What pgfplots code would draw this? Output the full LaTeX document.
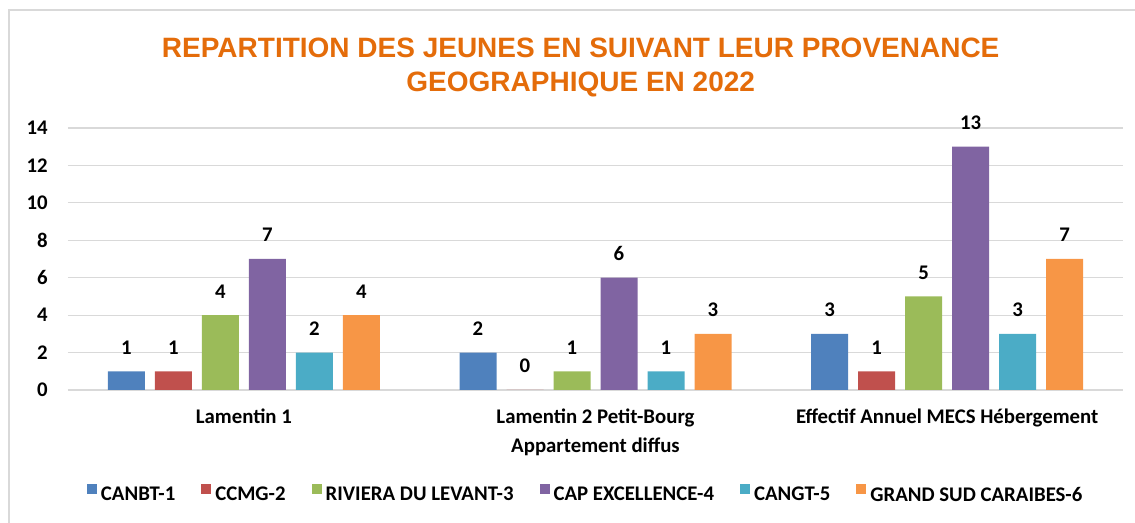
\documentclass[border=0pt]{standalone}
\usepackage{pgfplots}
\pgfplotsset{compat=1.18}
\usepackage{fontspec}
\setmainfont{Carlito}
\newfontfamily\titlefont{Liberation Sans}
\definecolor{cblue}{HTML}{4F81BD}
\definecolor{cred}{HTML}{C0504D}
\definecolor{cgreen}{HTML}{9BBB59}
\definecolor{cpurple}{HTML}{8064A2}
\definecolor{ccyan}{HTML}{4BACC6}
\definecolor{corange}{HTML}{F79646}
\definecolor{ctitle}{HTML}{E46C0A}
\definecolor{gridgray}{HTML}{D9D9D9}
\begin{document}
\begin{tikzpicture}[x=0.75pt,y=0.75pt]
\useasboundingbox (0,0) rectangle (1135,523);
\draw[gridgray, line width=1.5pt] (8.5,0) -- (8.5,512.5) -- (1135,512.5);
\begin{axis}[
  at={(51pt,99.75pt)}, anchor=south west,
  width=791.25pt, height=196.5pt, scale only axis,
  ybar=7.5pt, bar width=27.75pt,
  xmin=-0.5, xmax=2.5, ymin=0, ymax=14,
  ytick={0,2,...,14}, xtick={0,1,2},
  xticklabels={Lamentin 1,{Lamentin 2 Petit-Bourg\\Appartement diffus},Effectif Annuel MECS Hébergement},
  ymajorgrids, grid style={draw=gridgray, line width=0.9pt},
  axis line style={draw=none}, major tick length=0pt,
  /pgf/number format/assume math mode=true,
  tick label style={font=\bfseries\fontsize{15.6}{21.5}\selectfont},
  yticklabel style={anchor=east, inner sep=0pt, xshift=-15pt},
  xticklabel style={anchor=north, inner sep=0pt, yshift=-14pt, align=center},
  nodes near coords,
  every node near coord/.append style={font=\bfseries\fontsize{15.6}{18}\selectfont, anchor=base, inner sep=0pt, yshift=12.75pt, black},
  title={REPARTITION DES JEUNES EN SUIVANT LEUR PROVENANCE\\GEOGRAPHIQUE EN 2022},
  title style={at={(axis description cs:0.486,1.315)}, anchor=north, inner sep=0pt, align=center,
    font=\titlefont\bfseries\fontsize{21}{25.5}\selectfont, text=ctitle},
  legend columns=6,
  legend style={at={(axis description cs:0.491,-0.401)}, anchor=center, draw=none, fill=none,
    font=\bfseries\fontsize{15.6}{18}\selectfont,
    /tikz/every even column/.append style={column sep=17.5pt},
    /tikz/every odd column/.append style={column sep=1pt}},
  legend image code/.code={\fill[#1] (0pt,0.5pt) rectangle (7.5pt,8pt);},
]
\addplot[fill=cblue, draw=none] coordinates {(0,1) (1,2) (2,3)};
\addplot[fill=cred, draw=none] coordinates {(0,1) (1,0) (2,1)};
\addplot[fill=cgreen, draw=none] coordinates {(0,4) (1,1) (2,5)};
\addplot[fill=cpurple, draw=none] coordinates {(0,7) (1,6) (2,13)};
\addplot[fill=ccyan, draw=none] coordinates {(0,2) (1,1) (2,3)};
\addplot[fill=corange, draw=none] coordinates {(0,4) (1,3) (2,7)};
\legend{CANBT-1,CCMG-2,RIVIERA DU LEVANT-3,CAP EXCELLENCE-4,CANGT-5,GRAND SUD CARAIBES-6}
\end{axis}
\end{tikzpicture}
\end{document}
